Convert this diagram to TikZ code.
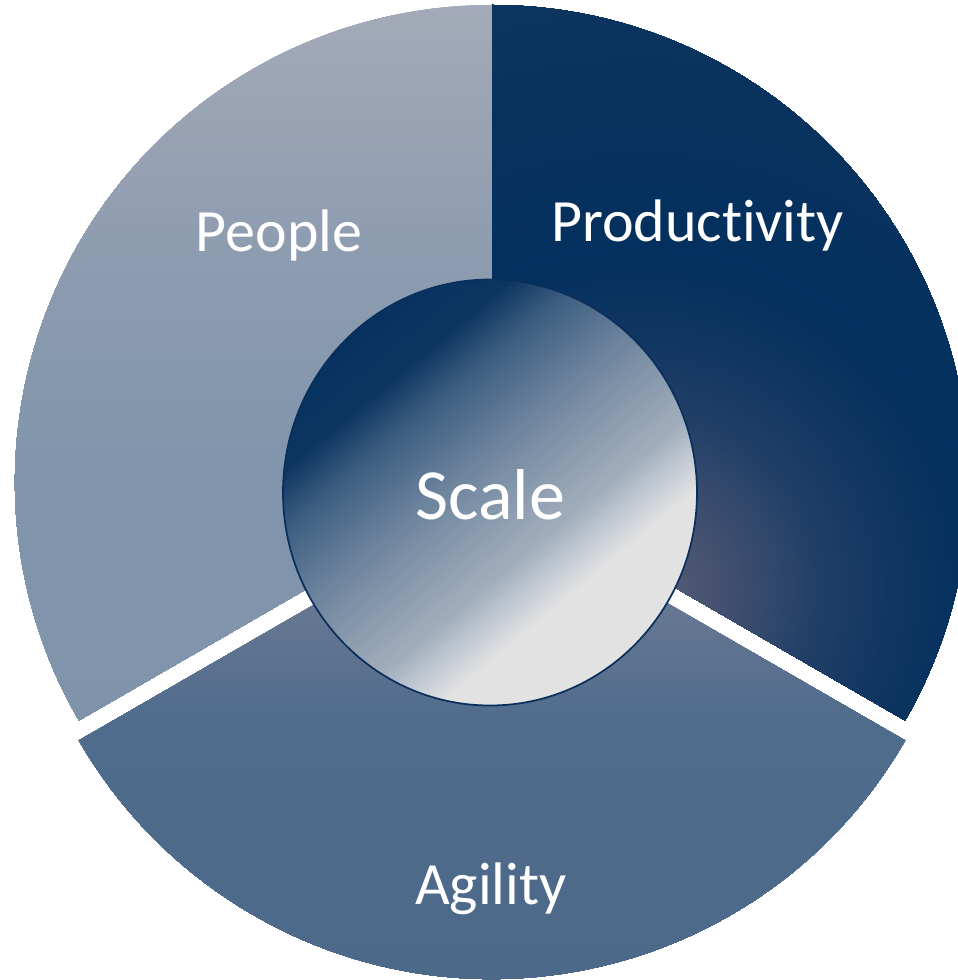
\documentclass[tikz,border=0pt]{standalone}
\usepackage{fontspec}
\setmainfont{Carlito}[Ligatures={NoCommon,NoRare,NoDiscretionary}]
\definecolor{peA}{HTML}{A4AAB8}
\definecolor{peB}{HTML}{8E9CB0}
\definecolor{peC}{HTML}{8196AC}
\definecolor{peD}{HTML}{7F94AB}
\definecolor{agA}{HTML}{6B7A94}
\definecolor{agB}{HTML}{5E7390}
\definecolor{agC}{HTML}{506C8C}
\definecolor{agD}{HTML}{4D698A}
\definecolor{prA}{HTML}{10365F}
\definecolor{prB}{HTML}{06315E}
\definecolor{prC}{HTML}{03305E}
\definecolor{prD}{HTML}{08325F}
\definecolor{prE}{HTML}{143763}
\definecolor{prF}{HTML}{213E67}
\definecolor{prG}{HTML}{33496C}
\definecolor{prH}{HTML}{44516F}
\definecolor{prI}{HTML}{4F5874}
\definecolor{prJ}{HTML}{5A607A}
\definecolor{scA}{HTML}{022F5D}
\definecolor{scB}{HTML}{0D3562}
\definecolor{scC}{HTML}{3E5E80}
\definecolor{scD}{HTML}{6C839D}
\definecolor{scE}{HTML}{8F9FB1}
\definecolor{scF}{HTML}{A2AEBD}
\definecolor{scG}{HTML}{C3CAD3}
\definecolor{scH}{HTML}{E2E2E2}
\definecolor{scI}{HTML}{E3E3E3}
\definecolor{scBorder}{HTML}{0A2F5C}
% vertical band: y from #1 to #2, colour #3 to #4
\newcommand\myvband[4]{%
  \pgfmathtruncatemacro\mynn{max(1,(#2-#1)/2)}%
  \foreach \k in {0,...,\mynn}{%
    \pgfmathsetmacro\myfr{\k/\mynn}%
    \pgfmathsetmacro\myyy{#1+(#2-#1)*\myfr}%
    \pgfmathsetmacro\mypp{100*\myfr}%
    \fill[#4!\mypp!#3] (0,\myyy) rectangle (960,1000);
  }}
% rings: centre #1, radius #2 (outer) to #3 (inner), colour #4 to #5
\newcommand\myring[5]{%
  \pgfmathtruncatemacro\mynn{max(1,(#2-#3)/2)}%
  \foreach \k in {0,...,\mynn}{%
    \pgfmathsetmacro\myfr{\k/\mynn}%
    \pgfmathsetmacro\myrr{#2-(#2-#3)*\myfr}%
    \pgfmathsetmacro\mypp{100*\myfr}%
    \fill[#5!\mypp!#4] (#1) circle[radius=\myrr];
  }}
% linear band along local x: t from #1 to #2, colour #3 to #4
\newcommand\mylband[4]{%
  \pgfmathtruncatemacro\mynn{max(1,(#2-#1)/2)}%
  \foreach \k in {0,...,\mynn}{%
    \pgfmathsetmacro\myfr{\k/\mynn}%
    \pgfmathsetmacro\mytv{#1+(#2-#1)*\myfr}%
    \pgfmathsetmacro\mypp{100*\myfr}%
    \fill[#4!\mypp!#3] (\mytv,-260) rectangle (260,260);
  }}
\tikzset{
  lbl/.style={text=white, inner sep=0pt, anchor=base, font=\fontsize{45}{54}\selectfont},
  biglbl/.style={lbl, font=\fontsize{54}{64}\selectfont},
}
\begin{document}
\begin{tikzpicture}[x=0.75pt,y=-0.75pt]
\useasboundingbox (0,0) rectangle (957,980);
\coordinate (C) at (492,482);
\coordinate (CA) at (492,502);
\coordinate (PC) at (640,590);
% People
\begin{scope}
  \clip (C) -- ++(150:477) arc[start angle=150,end angle=270,radius=477] -- cycle;
  \myvband{0}{250}{peA}{peB}
  \myvband{250}{450}{peB}{peC}
  \myvband{450}{730}{peC}{peD}
\end{scope}
% Productivity
\begin{scope}
  \clip (C) -- ++(-90:477) arc[start angle=-90,end angle=30,radius=477] -- cycle;
  \myring{PC}{740}{420}{prA}{prB}
  \myring{PC}{420}{340}{prB}{prC}
  \myring{PC}{340}{300}{prC}{prD}
  \myring{PC}{300}{240}{prD}{prE}
  \myring{PC}{240}{180}{prE}{prF}
  \myring{PC}{180}{130}{prF}{prG}
  \myring{PC}{130}{80}{prG}{prH}
  \myring{PC}{80}{40}{prH}{prI}
  \myring{PC}{40}{2}{prI}{prJ}
\end{scope}
% Agility
\begin{scope}
  \clip (CA) -- ++(30:477) arc[start angle=30,end angle=150,radius=477] -- cycle;
  \myvband{570}{650}{agA}{agB}
  \myvband{650}{720}{agB}{agC}
  \myvband{720}{985}{agC}{agD}
\end{scope}
% Scale circle
\begin{scope}
  \clip (490,492.5) ellipse[x radius=207, y radius=213];
  \begin{scope}[shift={(490,492.5)},rotate=-50]
    \mylband{-260}{-150}{scA}{scB}
    \mylband{-150}{-103}{scB}{scC}
    \mylband{-103}{-35}{scC}{scD}
    \mylband{-35}{31}{scD}{scE}
    \mylband{31}{70}{scE}{scF}
    \mylband{70}{100}{scF}{scG}
    \mylband{100}{130}{scG}{scH}
    \mylband{130}{260}{scH}{scI}
  \end{scope}
\end{scope}
\draw[scBorder, line width=1.3pt] (490,492.5) ellipse[x radius=207, y radius=213];
% labels
\node[lbl] (people) at (279,252) {People};
\node[lbl] (productivity) at (697.5,242) {Productivity};
\node[biglbl] (scale) at (490,519) {Scale};
\node[lbl] (agility) at (490.8,904) {Agility};
\end{tikzpicture}
\end{document}
